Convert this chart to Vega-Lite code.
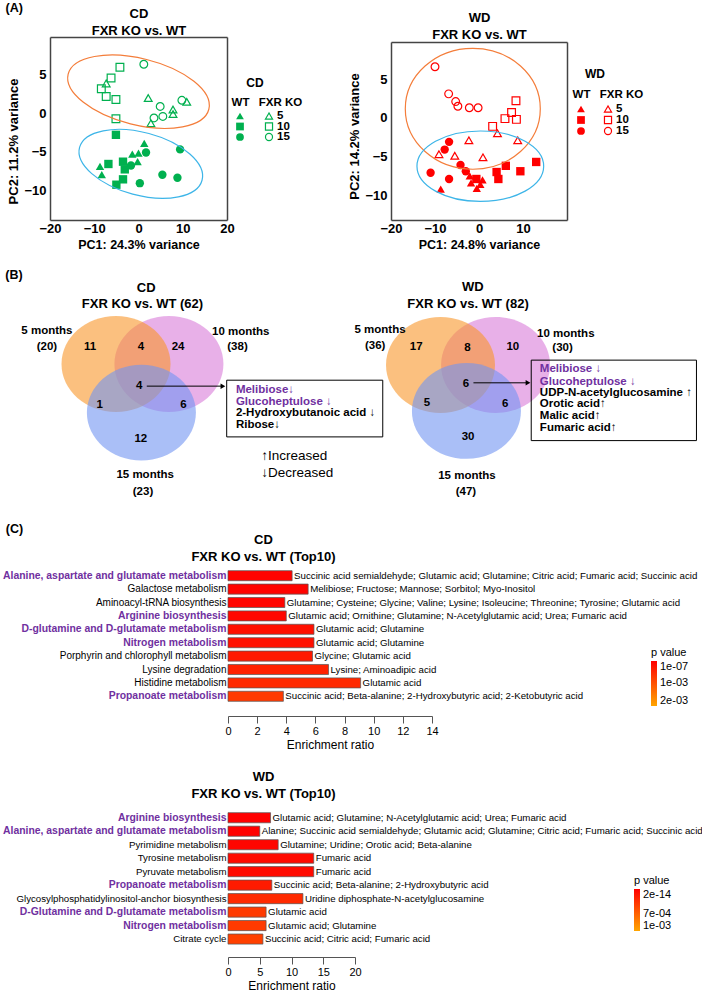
{
"$schema":"https://vega.github.io/schema/vega-lite/v6.json",
"width":702,"height":992,"autosize":{"type":"none"},"padding":0,"background":"white",
"config":{"font":"Liberation Sans","view":{"stroke":null},"axis":{"grid":false,"labelColor":"black","titleColor":"black","labelFlush":false,"labelOverlap":false}},
"datasets":{
"pcaCD":[
{"g":"KO","age":"5","pc1":-7.3,"pc2":3.9},{"g":"KO","age":"5","pc1":2.2,"pc2":2.0},{"g":"KO","age":"5","pc1":7.8,"pc2":0.5},{"g":"KO","age":"5","pc1":7.8,"pc2":-0.1},{"g":"KO","age":"5","pc1":10.9,"pc2":1.5},{"g":"KO","age":"5","pc1":2.8,"pc2":-1.3},
{"g":"KO","age":"10","pc1":-4.2,"pc2":6.0},{"g":"KO","age":"10","pc1":-6.2,"pc2":4.6},{"g":"KO","age":"10","pc1":-8.4,"pc2":3.2},{"g":"KO","age":"10","pc1":-7.3,"pc2":2.2},{"g":"KO","age":"10","pc1":-5.1,"pc2":1.8},{"g":"KO","age":"10","pc1":-5.1,"pc2":-0.7},
{"g":"KO","age":"15","pc1":1.2,"pc2":6.4},{"g":"KO","age":"15","pc1":4.9,"pc2":0.9},{"g":"KO","age":"15","pc1":5.5,"pc2":-0.4},{"g":"KO","age":"15","pc1":3.5,"pc2":-0.6},{"g":"KO","age":"15","pc1":9.8,"pc2":1.7},
{"g":"WT","age":"5","pc1":1.3,"pc2":-3.9},{"g":"WT","age":"5","pc1":-1.4,"pc2":-5.3},{"g":"WT","age":"5","pc1":0.0,"pc2":-5.2},{"g":"WT","age":"5","pc1":-0.2,"pc2":-6.3},{"g":"WT","age":"5","pc1":-8.7,"pc2":-6.9},{"g":"WT","age":"5","pc1":-8.3,"pc2":-8.0},
{"g":"WT","age":"10","pc1":-5.1,"pc2":-2.8},{"g":"WT","age":"10","pc1":-6.8,"pc2":-6.6},{"g":"WT","age":"10","pc1":-3.5,"pc2":-6.3},{"g":"WT","age":"10","pc1":-3.1,"pc2":-7.3},{"g":"WT","age":"10","pc1":-3.5,"pc2":-8.6},{"g":"WT","age":"10","pc1":-5.0,"pc2":-9.3},
{"g":"WT","age":"15","pc1":1.7,"pc2":-5.1},{"g":"WT","age":"15","pc1":9.4,"pc2":-4.7},{"g":"WT","age":"15","pc1":-1.7,"pc2":-6.8},{"g":"WT","age":"15","pc1":5.4,"pc2":-8.0},{"g":"WT","age":"15","pc1":8.8,"pc2":-8.4},{"g":"WT","age":"15","pc1":0.3,"pc2":-9.1}
],
"pcaWD":[
{"g":"KO","age":"15","pc1":-10.0,"pc2":6.6},{"g":"KO","age":"15","pc1":-6.9,"pc2":3.1},{"g":"KO","age":"15","pc1":-5.3,"pc2":2.1},{"g":"KO","age":"15","pc1":-4.8,"pc2":1.5},{"g":"KO","age":"15","pc1":-2.2,"pc2":1.3},{"g":"KO","age":"15","pc1":-0.2,"pc2":1.3},
{"g":"KO","age":"10","pc1":3.1,"pc2":-1.1},{"g":"KO","age":"10","pc1":5.9,"pc2":-0.1},{"g":"KO","age":"10","pc1":7.4,"pc2":0.7},{"g":"KO","age":"10","pc1":8.4,"pc2":2.2},{"g":"KO","age":"10","pc1":8.5,"pc2":-0.2},
{"g":"KO","age":"5","pc1":4.2,"pc2":-2.0},{"g":"KO","age":"5","pc1":8.8,"pc2":-2.9},{"g":"KO","age":"5","pc1":-2.3,"pc2":-2.9},{"g":"KO","age":"5","pc1":-9.1,"pc2":-4.7},{"g":"KO","age":"5","pc1":-5.5,"pc2":-4.9},{"g":"KO","age":"5","pc1":0.9,"pc2":-5.1},
{"g":"WT","age":"15","pc1":-6.8,"pc2":-3.1},{"g":"WT","age":"15","pc1":-7.8,"pc2":-4.1},{"g":"WT","age":"15","pc1":-4.2,"pc2":-6.1},{"g":"WT","age":"15","pc1":-3.0,"pc2":-6.9},{"g":"WT","age":"15","pc1":-11.0,"pc2":-7.1},{"g":"WT","age":"15","pc1":-6.8,"pc2":-7.9},
{"g":"WT","age":"10","pc1":6.1,"pc2":-6.2},{"g":"WT","age":"10","pc1":4.0,"pc2":-7.0},{"g":"WT","age":"10","pc1":4.4,"pc2":-7.9},{"g":"WT","age":"10","pc1":9.4,"pc2":-6.9},{"g":"WT","age":"10","pc1":13.0,"pc2":-5.7},{"g":"WT","age":"10","pc1":-0.6,"pc2":-7.9},
{"g":"WT","age":"5","pc1":-2.1,"pc2":-7.5},{"g":"WT","age":"5","pc1":-1.8,"pc2":-8.4},{"g":"WT","age":"5","pc1":0.3,"pc2":-8.6},{"g":"WT","age":"5","pc1":0.8,"pc2":-8.0},{"g":"WT","age":"5","pc1":-0.5,"pc2":-9.1},{"g":"WT","age":"5","pc1":-8.7,"pc2":-9.2}
],
"ellCD":[{"grp":"KO","pc1":0.0,"pc2":2.82},{"grp":"WT","pc1":0.52,"pc2":-6.58}],
"ellWD":[{"grp":"KO","pc1":-1.41,"pc2":1.17},{"grp":"WT","pc1":0.3,"pc2":-6.25}],
"legendRows":[{"g":"WT","age":"5"},{"g":"WT","age":"10"},{"g":"WT","age":"15"},{"g":"FXR KO","age":"5"},{"g":"FXR KO","age":"10"},{"g":"FXR KO","age":"15"}],
"vennCDsets":[{"set":"10 months","u":0.98,"v":0},{"set":"5 months","u":0,"v":0},{"set":"15 months","u":0.47,"v":-0.9}],
"vennWDsets":[{"set":"10 months","u":1.02,"v":0},{"set":"5 months","u":0,"v":0},{"set":"15 months","u":0.48,"v":-0.85}],
"vennCDtext":[
{"t":"11","u":-0.48,"v":0.31,"k":"n"},{"t":"4","u":0.46,"v":0.31,"k":"n"},{"t":"24","u":1.15,"v":0.31,"k":"n"},{"t":"4","u":0.43,"v":-0.41,"k":"n"},{"t":"1","u":-0.30,"v":-0.76,"k":"n"},{"t":"6","u":1.25,"v":-0.76,"k":"n"},{"t":"12","u":0.46,"v":-1.38,"k":"n"},
{"t":"5 months","u":-1.28,"v":0.62,"k":"n"},{"t":"(20)","u":-1.28,"v":0.32,"k":"n"},{"t":"10 months","u":2.31,"v":0.59,"k":"n"},{"t":"(38)","u":2.25,"v":0.31,"k":"n"},{"t":"15 months","u":0.54,"v":-2.06,"k":"n"},{"t":"(23)","u":0.5,"v":-2.37,"k":"n"},
{"t":"CD","u":0.56,"v":1.41,"k":"h"},{"t":"FXR KO vs. WT (62)","u":0.49,"v":1.11,"k":"h"},
{"t":"Melibiose↓","u":2.22,"v":-0.48,"k":"b","hl":true},{"t":"Glucoheptulose ↓","u":2.22,"v":-0.71,"k":"b","hl":true},{"t":"2-Hydroxybutanoic acid ↓","u":2.22,"v":-0.91,"k":"b","hl":false},{"t":"Ribose↓","u":2.22,"v":-1.13,"k":"b","hl":false},
{"t":"↑Increased","u":2.69,"v":-1.70,"k":"l"},{"t":"↓Decreased","u":2.69,"v":-2.02,"k":"l"},
{"t":"(B)","u":-1.89,"v":1.65,"k":"p"}
],
"vennWDtext":[
{"t":"17","u":-0.45,"v":0.33,"k":"n"},{"t":"8","u":0.50,"v":0.31,"k":"n"},{"t":"10","u":1.34,"v":0.34,"k":"n"},{"t":"6","u":0.47,"v":-0.35,"k":"n"},{"t":"5","u":-0.25,"v":-0.70,"k":"n"},{"t":"6","u":1.2,"v":-0.72,"k":"n"},{"t":"30","u":0.51,"v":-1.34,"k":"n"},
{"t":"5 months","u":-1.12,"v":0.64,"k":"n"},{"t":"(36)","u":-1.21,"v":0.36,"k":"n"},{"t":"10 months","u":2.32,"v":0.57,"k":"n"},{"t":"(30)","u":2.26,"v":0.31,"k":"n"},{"t":"15 months","u":0.49,"v":-2.06,"k":"n"},{"t":"(47)","u":0.47,"v":-2.35,"k":"n"},
{"t":"WD","u":0.6,"v":1.44,"k":"h"},{"t":"FXR KO vs. WT (82)","u":0.51,"v":1.13,"k":"h"},
{"t":"Melibiose ↓","u":1.84,"v":-0.08,"k":"b","hl":true},{"t":"Glucoheptulose ↓","u":1.84,"v":-0.31,"k":"b","hl":true},{"t":"UDP-N-acetylglucosamine ↑","u":1.84,"v":-0.52,"k":"b","hl":false},{"t":"Orotic acid↑","u":1.84,"v":-0.73,"k":"b","hl":false},{"t":"Malic acid↑","u":1.84,"v":-0.94,"k":"b","hl":false},{"t":"Fumaric acid↑","u":1.84,"v":-1.17,"k":"b","hl":false}
],
"barCD":[
{"pathway":"Alanine, aspartate and glutamate metabolism","ratio":4.4,"p":0.00002,"mets":"Succinic acid semialdehyde; Glutamic acid; Glutamine; Citric acid; Fumaric acid; Succinic acid"},
{"pathway":"Galactose metabolism","ratio":5.5,"p":0.00004,"mets":"Melibiose; Fructose; Mannose; Sorbitol; Myo-Inositol"},
{"pathway":"Aminoacyl-tRNA biosynthesis","ratio":3.9,"p":0.00005,"mets":"Glutamine; Cysteine; Glycine; Valine; Lysine; Isoleucine; Threonine; Tyrosine; Glutamic acid"},
{"pathway":"Arginine biosynthesis","ratio":4.0,"p":0.00008,"mets":"Glutamic acid; Ornithine; Glutamine; N-Acetylglutamic acid; Urea; Fumaric acid"},
{"pathway":"D-glutamine and D-glutamate metabolism","ratio":5.9,"p":0.0002,"mets":"Glutamic acid; Glutamine"},
{"pathway":"Nitrogen metabolism","ratio":5.9,"p":0.0002,"mets":"Glutamic acid; Glutamine"},
{"pathway":"Porphyrin and chlorophyll metabolism","ratio":5.8,"p":0.0003,"mets":"Glycine; Glutamic acid"},
{"pathway":"Lysine degradation","ratio":6.9,"p":0.0004,"mets":"Lysine; Aminoadipic acid"},
{"pathway":"Histidine metabolism","ratio":9.1,"p":0.0005,"mets":"Glutamic acid"},
{"pathway":"Propanoate metabolism","ratio":3.8,"p":0.0007,"mets":"Succinic acid; Beta-alanine; 2-Hydroxybutyric acid; 2-Ketobutyric acid"}
],
"barWD":[
{"pathway":"Arginine biosynthesis","ratio":6.7,"p":0.00001,"mets":"Glutamic acid; Glutamine; N-Acetylglutamic acid; Urea; Fumaric acid"},
{"pathway":"Alanine, aspartate and glutamate metabolism","ratio":5.0,"p":0.00001,"mets":"Alanine; Succinic acid semialdehyde; Glutamic acid; Glutamine; Citric acid; Fumaric acid; Succinic acid"},
{"pathway":"Pyrimidine metabolism","ratio":7.9,"p":0.0001,"mets":"Glutamine; Uridine; Orotic acid; Beta-alanine"},
{"pathway":"Tyrosine metabolism","ratio":13.5,"p":0.00015,"mets":"Fumaric acid"},
{"pathway":"Pyruvate metabolism","ratio":13.5,"p":0.00015,"mets":"Fumaric acid"},
{"pathway":"Propanoate metabolism","ratio":6.9,"p":0.0003,"mets":"Succinic acid; Beta-alanine; 2-Hydroxybutyric acid"},
{"pathway":"Glycosylphosphatidylinositol-anchor biosynthesis","ratio":11.8,"p":0.0004,"mets":"Uridine diphosphate-N-acetylglucosamine"},
{"pathway":"D-Glutamine and D-glutamate metabolism","ratio":6.0,"p":0.0005,"mets":"Glutamic acid"},
{"pathway":"Nitrogen metabolism","ratio":6.0,"p":0.0005,"mets":"Glutamic acid; Glutamine"},
{"pathway":"Citrate cycle","ratio":5.5,"p":0.00053,"mets":"Succinic acid; Citric acid; Fumaric acid"}
]
},
"resolve":{"scale":{"x":"independent","y":"independent","color":"independent","shape":"independent"},"axis":{"x":"independent","y":"independent"},"legend":{"color":"independent"}},
"layer":[
{
"data":{"name":"pcaCD"},
"resolve":{"axis":{"x":"independent","y":"independent"}},
"encoding":{
"x":{"field":"pc1","type":"quantitative","scale":{"domain":[-20,20],"range":[50,227],"nice":false,"zero":false},"axis":null},
"y":{"field":"pc2","type":"quantitative","scale":{"domain":[-13.9,9.95],"range":[220,37],"nice":false,"zero":false},"axis":null}
},
"layer":[
{"transform":[{"filter":"datum.g === 'WT'"}],
"mark":{"type":"point","filled":true,"color":"#00b04f","size":70,"opacity":1},
"encoding":{
"x":{"field":"pc1","type":"quantitative","scale":{"domain":[-20,20],"range":[50,227],"nice":false,"zero":false},"axis":{"orient":"bottom","offset":-772,"values":[-20,-10,0,10,20],"domainColor":"#444","domainWidth":1.5,"ticks":false,"labelPadding":2,"labelFontSize":13,"labelFontWeight":"bold","title":"PC1: 24.3% variance","titleFontSize":12.5,"titleFontWeight":"bold","titlePadding":3}},
"y":{"field":"pc2","type":"quantitative","scale":{"domain":[-13.9,9.95],"range":[220,37],"nice":false,"zero":false},"axis":{"orient":"left","offset":-50,"values":[-10,-5,0,5],"domainColor":"#444","domainWidth":1.5,"ticks":false,"labelPadding":4,"labelFontSize":13,"labelFontWeight":"bold","title":"PC2: 11.2% variance","titleFontSize":13,"titleFontWeight":"bold","titlePadding":3,"titleY":141}},
"shape":{"field":"age","type":"nominal","scale":{"domain":["5","10","15"],"range":["triangle-up","square","circle"]},"legend":null}}},
{"transform":[{"filter":"datum.g === 'KO'"}],
"mark":{"type":"point","filled":false,"color":"#00b04f","size":60,"strokeWidth":1.2,"opacity":1},
"encoding":{
"x":{"field":"pc1","type":"quantitative","scale":{"domain":[-20,20],"range":[50,227],"nice":false,"zero":false},"axis":{"orient":"top","offset":-37,"domainColor":"#444","domainWidth":1.5,"ticks":false,"labels":false,"title":["CD","FXR KO vs. WT"],"titleFontSize":13,"titleFontWeight":"bold","titlePadding":0,"titleLineHeight":17}},
"y":{"field":"pc2","type":"quantitative","scale":{"domain":[-13.9,9.95],"range":[220,37],"nice":false,"zero":false},"axis":{"orient":"right","offset":-475,"domainColor":"#444","domainWidth":1.5,"ticks":false,"labels":false,"title":null}},
"shape":{"field":"age","type":"nominal","scale":{"domain":["5","10","15"],"range":["triangle-up","square","circle"]},"legend":null}}},
{"data":{"name":"ellCD"},"transform":[{"filter":"datum.grp === 'KO'"}],"mark":{"type":"point","filled":false,"shape":"M -1 0 A 1 0.458 0 1 1 1 0 A 1 0.458 0 1 1 -1 0 Z","size":21025,"angle":14,"color":"#f47d3a","strokeWidth":1.2,"opacity":1}},
{"data":{"name":"ellCD"},"transform":[{"filter":"datum.grp === 'WT'"}],"mark":{"type":"point","filled":false,"shape":"M -1 0 A 1 0.495 0 1 1 1 0 A 1 0.495 0 1 1 -1 0 Z","size":16078,"angle":15,"color":"#3db5e8","strokeWidth":1.2,"opacity":1}},
{"data":{"values":[{"t":"(A)","pc1":-28.1,"pc2":13.7}]},"mark":{"type":"text","fontSize":12.5,"fontWeight":"bold","align":"center","baseline":"middle"},"encoding":{"text":{"field":"t"}}}
]
},
{
"data":{"name":"legendRows"},
"resolve":{"axis":{"x":"independent","y":"independent"}},
"encoding":{
"x":{"field":"g","type":"nominal","scale":{"type":"point","domain":["WT","FXR KO"],"range":[240,269],"padding":0},"axis":null},
"y":{"field":"age","type":"nominal","scale":{"type":"point","domain":["5","10","15"],"range":[116,137],"padding":0},"axis":null},
"shape":{"field":"age","type":"nominal","scale":{"domain":["5","10","15"],"range":["triangle-up","square","circle"]},"legend":null}
},
"layer":[
{"transform":[{"filter":"datum.g === 'WT'"}],"mark":{"type":"point","filled":true,"color":"#00b04f","size":60,"opacity":1},
"encoding":{"x":{"field":"g","type":"nominal","scale":{"type":"point","domain":["WT","FXR KO"],"range":[240,269],"padding":0},"axis":{"orient":"top","offset":-108,"domain":false,"ticks":false,"labelPadding":1,"labelAngle":0,"labelFontSize":11.5,"labelFontWeight":"bold","labelOffset":{"condition":{"test":"datum.value === 'FXR KO'","value":11},"value":0},"title":"CD","titleFontSize":12,"titleFontWeight":"bold","titlePadding":7}}}},
{"transform":[{"filter":"datum.g === 'FXR KO'"}],"mark":{"type":"point","filled":false,"color":"#00b04f","size":50,"strokeWidth":1.2,"opacity":1}},
{"transform":[{"filter":"datum.g === 'FXR KO'"}],"mark":{"type":"text","align":"left","baseline":"middle","dx":8,"fontSize":11.5,"fontWeight":"bold"},"encoding":{"text":{"field":"age"}}}
]
},
{
"data":{"name":"pcaWD"},
"resolve":{"axis":{"x":"independent","y":"independent"}},
"encoding":{
"x":{"field":"pc1","type":"quantitative","scale":{"domain":[-20,20],"range":[391,567],"nice":false,"zero":false},"axis":null},
"y":{"field":"pc2","type":"quantitative","scale":{"domain":[-13.2,9.8],"range":[220,42],"nice":false,"zero":false},"axis":null}
},
"layer":[
{"transform":[{"filter":"datum.g === 'WT'"}],
"mark":{"type":"point","filled":true,"color":"#ff0000","size":70,"opacity":1},
"encoding":{
"x":{"field":"pc1","type":"quantitative","scale":{"domain":[-20,20],"range":[391,567],"nice":false,"zero":false},"axis":{"orient":"bottom","offset":-772,"values":[-20,-10,0,10],"domainColor":"#444","domainWidth":1.5,"ticks":false,"labelPadding":2,"labelFontSize":13,"labelFontWeight":"bold","title":"PC1: 24.8% variance","titleFontSize":12.5,"titleFontWeight":"bold","titlePadding":3}},
"y":{"field":"pc2","type":"quantitative","scale":{"domain":[-13.2,9.8],"range":[220,42],"nice":false,"zero":false},"axis":{"orient":"left","offset":-391,"values":[-10,-5,0,5],"domainColor":"#444","domainWidth":1.5,"ticks":false,"labelPadding":4,"labelFontSize":13,"labelFontWeight":"bold","title":"PC2: 14.2% variance","titleFontSize":13,"titleFontWeight":"bold","titlePadding":3,"titleY":136}},
"shape":{"field":"age","type":"nominal","scale":{"domain":["5","10","15"],"range":["triangle-up","square","circle"]},"legend":null}}},
{"transform":[{"filter":"datum.g === 'KO'"}],
"mark":{"type":"point","filled":false,"color":"#ff0000","size":60,"strokeWidth":1.2,"opacity":1},
"encoding":{
"x":{"field":"pc1","type":"quantitative","scale":{"domain":[-20,20],"range":[391,567],"nice":false,"zero":false},"axis":{"orient":"top","offset":-42,"domainColor":"#444","domainWidth":1.5,"ticks":false,"labels":false,"title":["WD","FXR KO vs. WT"],"titleFontSize":13,"titleFontWeight":"bold","titlePadding":1,"titleLineHeight":17}},
"y":{"field":"pc2","type":"quantitative","scale":{"domain":[-13.2,9.8],"range":[220,42],"nice":false,"zero":false},"axis":{"orient":"right","offset":-135,"domainColor":"#444","domainWidth":1.5,"ticks":false,"labels":false,"title":null}},
"shape":{"field":"age","type":"nominal","scale":{"domain":["5","10","15"],"range":["triangle-up","square","circle"]},"legend":null}}},
{"data":{"name":"ellWD"},"transform":[{"filter":"datum.grp === 'KO'"}],"mark":{"type":"point","filled":false,"shape":"M -1 0 A 1 0.896 0 1 1 1 0 A 1 0.896 0 1 1 -1 0 Z","size":18225,"color":"#f47d3a","strokeWidth":1.2,"opacity":1}},
{"data":{"name":"ellWD"},"transform":[{"filter":"datum.grp === 'WT'"}],"mark":{"type":"point","filled":false,"shape":"M -1 0 A 1 0.556 0 1 1 1 0 A 1 0.556 0 1 1 -1 0 Z","size":16053,"color":"#3db5e8","strokeWidth":1.2,"opacity":1}}
]
},
{
"data":{"name":"legendRows"},
"resolve":{"axis":{"x":"independent","y":"independent"}},
"encoding":{
"x":{"field":"g","type":"nominal","scale":{"type":"point","domain":["WT","FXR KO"],"range":[581,608],"padding":0},"axis":null},
"y":{"field":"age","type":"nominal","scale":{"type":"point","domain":["5","10","15"],"range":[109,131],"padding":0},"axis":null},
"shape":{"field":"age","type":"nominal","scale":{"domain":["5","10","15"],"range":["triangle-up","square","circle"]},"legend":null}
},
"layer":[
{"transform":[{"filter":"datum.g === 'WT'"}],"mark":{"type":"point","filled":true,"color":"#ff0000","size":60,"opacity":1},
"encoding":{"x":{"field":"g","type":"nominal","scale":{"type":"point","domain":["WT","FXR KO"],"range":[581,608],"padding":0},"axis":{"orient":"top","offset":-100,"domain":false,"ticks":false,"labelPadding":1,"labelAngle":0,"labelFontSize":11.5,"labelFontWeight":"bold","labelOffset":{"condition":{"test":"datum.value === 'FXR KO'","value":13},"value":0},"title":"WD","titleFontSize":12,"titleFontWeight":"bold","titlePadding":8}}}},
{"transform":[{"filter":"datum.g === 'FXR KO'"}],"mark":{"type":"point","filled":false,"color":"#ff0000","size":50,"strokeWidth":1.2,"opacity":1}},
{"transform":[{"filter":"datum.g === 'FXR KO'"}],"mark":{"type":"text","align":"left","baseline":"middle","dx":8,"fontSize":11.5,"fontWeight":"bold"},"encoding":{"text":{"field":"age"}}}
]
},
{
"encoding":{
"x":{"field":"u","type":"quantitative","scale":{"domain":[-2,5],"range":[8,386],"nice":false,"zero":false},"axis":null},
"y":{"field":"v","type":"quantitative","scale":{"domain":[-3,2],"range":[526,256],"nice":false,"zero":false},"axis":null}
},
"layer":[
{"data":{"name":"vennCDsets"},"mark":{"type":"point","filled":true,"shape":"M -1 0 A 1 0.88 0 1 1 1 0 A 1 0.88 0 1 1 -1 0 Z","size":11881,"opacity":1,"fillOpacity":0.6,"strokeWidth":0},
"encoding":{"color":{"field":"set","type":"nominal","scale":{"domain":["5 months","10 months","15 months"],"range":["#f8962a","#d97bd9","#7194f2"]},"legend":null}}},
{"data":{"values":[{"u":2.05,"u2":4.94,"v":-0.30,"v2":-1.35}]},"mark":{"type":"rect","filled":false,"color":"black","strokeWidth":1},"encoding":{"x2":{"field":"u2"},"y2":{"field":"v2"}}},
{"data":{"values":[{"u":0.57,"u2":1.98,"v":-0.41}]},"mark":{"type":"rule","color":"black","strokeWidth":1},"encoding":{"x2":{"field":"u2"}}},
{"data":{"values":[{"u":0.57,"u2":1.98,"v":-0.41}]},"mark":{"type":"point","shape":"triangle-right","filled":true,"color":"black","size":30,"opacity":1},"encoding":{"x":{"field":"u2","type":"quantitative","scale":{"domain":[-2,5],"range":[8,386],"nice":false,"zero":false},"axis":null}}},
{"data":{"name":"vennCDtext"},"transform":[{"filter":"datum.k === 'n'"}],"mark":{"type":"text","fontSize":11.5,"fontWeight":"bold","align":"center","baseline":"middle"},"encoding":{"text":{"field":"t"}}},
{"data":{"name":"vennCDtext"},"transform":[{"filter":"datum.k === 'h'"}],"mark":{"type":"text","fontSize":13,"fontWeight":"bold","align":"center","baseline":"middle"},"encoding":{"text":{"field":"t"}}},
{"data":{"name":"vennCDtext"},"transform":[{"filter":"datum.k === 'p'"}],"mark":{"type":"text","fontSize":12.5,"fontWeight":"bold","align":"center","baseline":"middle"},"encoding":{"text":{"field":"t"}}},
{"data":{"name":"vennCDtext"},"transform":[{"filter":"datum.k === 'l'"}],"mark":{"type":"text","fontSize":13.5,"align":"left","baseline":"middle"},"encoding":{"text":{"field":"t"}}},
{"data":{"name":"vennCDtext"},"transform":[{"filter":"datum.k === 'b'"}],"mark":{"type":"text","fontSize":11.5,"fontWeight":"bold","align":"left","baseline":"middle"},"encoding":{"text":{"field":"t"},"color":{"condition":{"test":"datum.hl","value":"#7030a0"},"value":"black"}}}
]
},
{
"encoding":{
"x":{"field":"u","type":"quantitative","scale":{"domain":[-2,5],"range":[332.5,710.5],"nice":false,"zero":false},"axis":null},
"y":{"field":"v","type":"quantitative","scale":{"domain":[-3,2],"range":[527,257],"nice":false,"zero":false},"axis":null}
},
"layer":[
{"data":{"name":"vennWDsets"},"mark":{"type":"point","filled":true,"shape":"M -1 0 A 1 0.88 0 1 1 1 0 A 1 0.88 0 1 1 -1 0 Z","size":11881,"opacity":1,"fillOpacity":0.6,"strokeWidth":0},
"encoding":{"color":{"field":"set","type":"nominal","scale":{"domain":["5 months","10 months","15 months"],"range":["#f8962a","#d97bd9","#7194f2"]},"legend":null}}},
{"data":{"values":[{"u":1.68,"u2":4.74,"v":0.09,"v2":-1.40}]},"mark":{"type":"rect","filled":false,"color":"black","strokeWidth":1},"encoding":{"x2":{"field":"u2"},"y2":{"field":"v2"}}},
{"data":{"values":[{"u":0.61,"u2":1.62,"v":-0.33}]},"mark":{"type":"rule","color":"black","strokeWidth":1},"encoding":{"x2":{"field":"u2"}}},
{"data":{"values":[{"u":0.61,"u2":1.62,"v":-0.33}]},"mark":{"type":"point","shape":"triangle-right","filled":true,"color":"black","size":30,"opacity":1},"encoding":{"x":{"field":"u2","type":"quantitative","scale":{"domain":[-2,5],"range":[332.5,710.5],"nice":false,"zero":false},"axis":null}}},
{"data":{"name":"vennWDtext"},"transform":[{"filter":"datum.k === 'n'"}],"mark":{"type":"text","fontSize":11.5,"fontWeight":"bold","align":"center","baseline":"middle"},"encoding":{"text":{"field":"t"}}},
{"data":{"name":"vennWDtext"},"transform":[{"filter":"datum.k === 'h'"}],"mark":{"type":"text","fontSize":13,"fontWeight":"bold","align":"center","baseline":"middle"},"encoding":{"text":{"field":"t"}}},
{"data":{"name":"vennWDtext"},"transform":[{"filter":"datum.k === 'b'"}],"mark":{"type":"text","fontSize":11.5,"fontWeight":"bold","align":"left","baseline":"middle"},"encoding":{"text":{"field":"t"},"color":{"condition":{"test":"datum.hl","value":"#7030a0"},"value":"black"}}}
]
},
{
"data":{"name":"barCD"},
"resolve":{"axis":{"x":"independent","y":"independent"}},
"layer":[
{"mark":{"type":"bar","stroke":"#555","strokeWidth":0.7},
"encoding":{
"y":{"field":"pathway","type":"nominal","sort":null,"scale":{"range":[569,703],"paddingInner":0.25,"paddingOuter":0.125},
"axis":{"orient":"left","offset":-228,"domain":false,"ticks":false,"labelPadding":2,"labelLimit":400,
"labelFontSize":{"condition":{"test":"indexof(['Alanine, aspartate and glutamate metabolism','Arginine biosynthesis','D-glutamine and D-glutamate metabolism','D-Glutamine and D-glutamate metabolism','Nitrogen metabolism','Propanoate metabolism'], datum.value) >= 0","value":10.4},"value":10},
"labelColor":{"condition":{"test":"indexof(['Alanine, aspartate and glutamate metabolism','Arginine biosynthesis','D-glutamine and D-glutamate metabolism','D-Glutamine and D-glutamate metabolism','Nitrogen metabolism','Propanoate metabolism'], datum.value) >= 0","value":"#7030a0"},"value":"black"},
"labelFontWeight":{"condition":{"test":"indexof(['Alanine, aspartate and glutamate metabolism','Arginine biosynthesis','D-glutamine and D-glutamate metabolism','D-Glutamine and D-glutamate metabolism','Nitrogen metabolism','Propanoate metabolism'], datum.value) >= 0","value":"bold"},"value":"normal"},
"title":"(C)","titleAngle":0,"titleX":-214,"titleY":528,"titleAlign":"center","titleBaseline":"middle","titleFontSize":12.5,"titleFontWeight":"bold"}},
"x":{"field":"ratio","type":"quantitative","scale":{"domain":[0,14],"range":[228,432],"nice":false,"zero":false},
"axis":{"orient":"bottom","offset":-276,"values":[0,2,4,6,8,10,12,14],"tickSize":7,"domainColor":"#555","tickColor":"#555","labelFontSize":11,"labelPadding":2,"title":"Enrichment ratio","titleFontSize":12,"titleFontWeight":"normal","titlePadding":3}},
"color":{"field":"p","type":"quantitative","scale":{"domain":[0.002,1e-7],"range":["#ffa500","#ff0000"],"interpolate":"rgb"},
"legend":{"orient":"none","legendX":651,"legendY":647,"direction":"vertical","gradientLength":45,"gradientThickness":6,"gradientStrokeWidth":0,"title":"p value","titleFontSize":11,"titleFontWeight":"normal","titlePadding":3,"titleAnchor":"start","labelFontSize":11,"labelOffset":3,"values":[1e-7,0.001,0.002],"labelExpr":"datum.value < 0.00001 ? '1e-07' : (datum.value < 0.0015 ? '1e-03' : '2e-03')"}}
}},
{"mark":{"type":"text","align":"left","baseline":"middle","dx":2,"fontSize":9.7,"color":"black"},
"encoding":{
"y":{"field":"pathway","type":"nominal","sort":null,"scale":{"range":[569,703],"paddingInner":0.25,"paddingOuter":0.125},"axis":null},
"x":{"field":"ratio","type":"quantitative","scale":{"domain":[0,14],"range":[228,432],"nice":false,"zero":false},
"axis":{"orient":"top","offset":-569,"domain":false,"ticks":false,"labels":false,"title":["CD","FXR KO vs. WT (Top10)"],"titleX":263,"titlePadding":6,"titleFontSize":13,"titleFontWeight":"bold","titleLineHeight":17}},
"text":{"field":"mets"}}}
]
},
{
"data":{"name":"barWD"},
"resolve":{"axis":{"x":"independent","y":"independent"}},
"layer":[
{"mark":{"type":"bar","stroke":"#555","strokeWidth":0.7},
"encoding":{
"y":{"field":"pathway","type":"nominal","sort":null,"scale":{"range":[811,945.8],"paddingInner":0.25,"paddingOuter":0.125},
"axis":{"orient":"left","offset":-228,"domain":false,"ticks":false,"labelPadding":2,"labelLimit":400,
"labelFontSize":{"condition":{"test":"indexof(['Alanine, aspartate and glutamate metabolism','Arginine biosynthesis','D-glutamine and D-glutamate metabolism','D-Glutamine and D-glutamate metabolism','Nitrogen metabolism','Propanoate metabolism'], datum.value) >= 0","value":10.4},"value":9.7},
"labelColor":{"condition":{"test":"indexof(['Alanine, aspartate and glutamate metabolism','Arginine biosynthesis','D-glutamine and D-glutamate metabolism','D-Glutamine and D-glutamate metabolism','Nitrogen metabolism','Propanoate metabolism'], datum.value) >= 0","value":"#7030a0"},"value":"black"},
"labelFontWeight":{"condition":{"test":"indexof(['Alanine, aspartate and glutamate metabolism','Arginine biosynthesis','D-glutamine and D-glutamate metabolism','D-Glutamine and D-glutamate metabolism','Nitrogen metabolism','Propanoate metabolism'], datum.value) >= 0","value":"bold"},"value":"normal"},
"title":null}},
"x":{"field":"ratio","type":"quantitative","scale":{"domain":[0,20],"range":[228,355],"nice":false,"zero":false},
"axis":{"orient":"bottom","offset":-35,"values":[0,5,10,15,20],"tickSize":7,"domainColor":"#555","tickColor":"#555","labelFontSize":11,"labelPadding":2,"title":"Enrichment ratio","titleFontSize":12,"titleFontWeight":"normal","titlePadding":3}},
"color":{"field":"p","type":"quantitative","scale":{"type":"pow","exponent":1.5,"domain":[0.001,2e-14],"range":["#ffa500","#ff0000"],"interpolate":"rgb"},
"legend":{"orient":"none","legendX":634,"legendY":875,"direction":"vertical","gradientLength":42,"gradientThickness":6,"gradientStrokeWidth":0,"title":"p value","titleFontSize":11,"titleFontWeight":"normal","titlePadding":3,"titleAnchor":"start","labelFontSize":11,"labelOffset":3,"values":[2e-14,0.0007,0.001],"labelExpr":"datum.value < 0.00001 ? '2e-14' : (datum.value < 0.00085 ? '7e-04' : '1e-03')"}}
}},
{"mark":{"type":"text","align":"left","baseline":"middle","dx":2,"fontSize":9.7,"color":"black"},
"encoding":{
"y":{"field":"pathway","type":"nominal","sort":null,"scale":{"range":[811,945.8],"paddingInner":0.25,"paddingOuter":0.125},"axis":null},
"x":{"field":"ratio","type":"quantitative","scale":{"domain":[0,20],"range":[228,355],"nice":false,"zero":false},
"axis":{"orient":"top","offset":-811,"domain":false,"ticks":false,"labels":false,"title":["WD","FXR KO vs. WT (Top10)"],"titleX":263,"titlePadding":11,"titleFontSize":13,"titleFontWeight":"bold","titleLineHeight":17}},
"text":{"field":"mets"}}}
]
}
]
}
